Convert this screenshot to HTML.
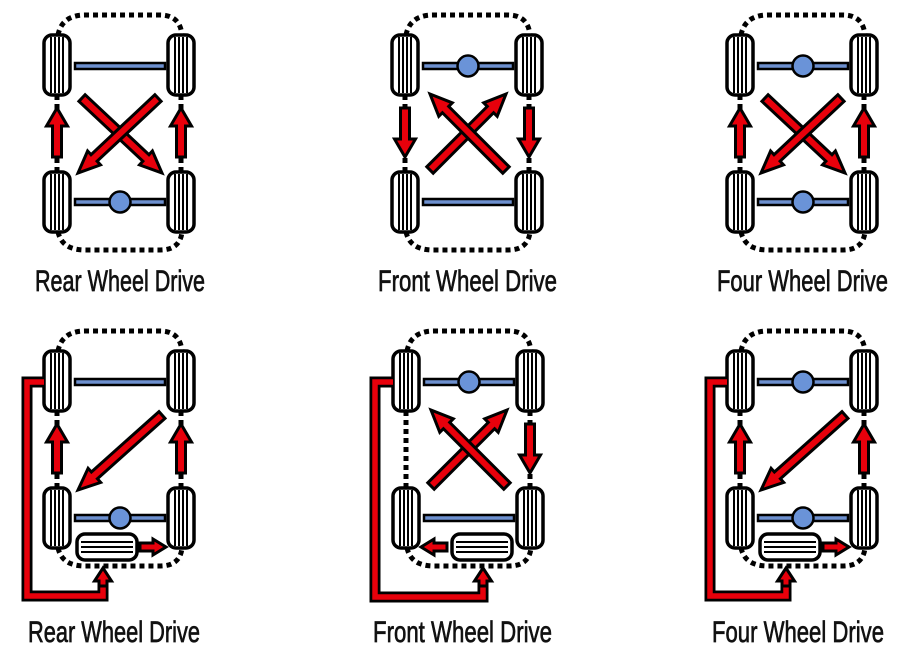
<!DOCTYPE html>
<html><head><meta charset="utf-8"><style>
html,body{margin:0;padding:0;background:#fff;}
svg{display:block}
text{font-family:"Liberation Sans Narrow","Liberation Sans",sans-serif;font-size:30px;fill:#111;stroke:#111;stroke-width:0.7px;}
</style></head><body>
<svg id="s" width="900" height="652" viewBox="0 0 900 652" xmlns="http://www.w3.org/2000/svg">
<g id="shapes"></g>
<text x="35" y="291" textLength="170" lengthAdjust="spacingAndGlyphs">Rear Wheel Drive</text>
<text x="378" y="291" textLength="179" lengthAdjust="spacingAndGlyphs">Front Wheel Drive</text>
<text x="717" y="291" textLength="171" lengthAdjust="spacingAndGlyphs">Four Wheel Drive</text>
<text x="28" y="642" textLength="172" lengthAdjust="spacingAndGlyphs">Rear Wheel Drive</text>
<text x="373" y="642" textLength="179" lengthAdjust="spacingAndGlyphs">Front Wheel Drive</text>
<text x="712" y="642" textLength="172" lengthAdjust="spacingAndGlyphs">Four Wheel Drive</text>
</svg>
<script>
var out=[];
function arrow(x0,y0,x1,y1,w,hw,hl){
  w=w||9;hw=hw||21;hl=hl||18;
  var dx=x1-x0,dy=y1-y0,L=Math.hypot(dx,dy),ux=dx/L,uy=dy/L,px=-uy,py=ux;
  var bx=x1-ux*hl,by=y1-uy*hl;
  var p=[[x0+px*w/2,y0+py*w/2],[bx+px*w/2,by+py*w/2],[bx+px*hw/2,by+py*hw/2],[x1,y1],
  [bx-px*hw/2,by-py*hw/2],[bx-px*w/2,by-py*w/2],[x0-px*w/2,y0-py*w/2]];
  out.push('<polygon points="'+p.map(function(a){return a[0].toFixed(1)+','+a[1].toFixed(1)}).join(' ')+'" fill="#e8000b" stroke="#000" stroke-width="3" stroke-linejoin="miter"/>');
}
function wheel(x,y){
  out.push('<rect x="'+x+'" y="'+y+'" width="26" height="60" rx="8" fill="#fff" stroke="#000" stroke-width="3.5"/>');
  for(var i=0;i<4;i++){var lx=x+7+i*4;out.push('<line x1="'+lx+'" y1="'+(y+2)+'" x2="'+lx+'" y2="'+(y+58)+'" stroke="#000" stroke-width="2"/>');}
}
function engine(x,y){
  out.push('<rect x="'+x+'" y="'+y+'" width="60" height="26" rx="8" fill="#fff" stroke="#000" stroke-width="3.5"/>');
  for(var i=0;i<3;i++){var ly=y+8+i*5;out.push('<line x1="'+(x+4)+'" y1="'+ly+'" x2="'+(x+56)+'" y2="'+ly+'" stroke="#000" stroke-width="2"/>');}
}
function axle(ox,y,diff){
  out.push('<rect x="'+(ox+75)+'" y="'+(y-3)+'" width="90" height="6" fill="#6d90cf" stroke="#000" stroke-width="2.5"/>');
  if(diff)out.push('<circle cx="'+(ox+120)+'" cy="'+y+'" r="10.5" fill="#6a93d8" stroke="#000" stroke-width="2.5"/>');
}
function dots(d){out.push('<path d="'+d+'" fill="none" stroke="#000" stroke-width="5" stroke-dasharray="5 4"/>');}
function panel(ox,oy,o){
  var T=function(x,y){return (ox+x)+','+(oy+y)};
  dots('M'+T(58,35)+' Q'+T(62,15)+' '+T(85,15)+' L'+T(160,15)+' Q'+T(180,15)+' '+T(182,35));
  dots('M'+T(58,232)+' Q'+T(62,250)+' '+T(85,250)+' L'+T(160,250)+' Q'+T(180,250)+' '+T(182,232));
  dots('M'+T(57,95)+' L'+T(57,172));
  dots('M'+T(181,95)+' L'+T(181,172));
  wheel(ox+44,oy+35);wheel(ox+168,oy+35);wheel(ox+44,oy+172);wheel(ox+168,oy+172);
  axle(ox,oy+66,o.fd);axle(ox,oy+202,o.rd);
  if(o.lv==='up')arrow(ox+57,oy+157,ox+57,oy+108);
  if(o.lv==='down')arrow(ox+57,oy+108,ox+57,oy+157);
  if(o.rv==='up')arrow(ox+181,oy+157,ox+181,oy+108);
  if(o.rv==='down')arrow(ox+181,oy+108,ox+181,oy+157);
  if(o.cross==='down'){arrow(ox+82,oy+98,ox+162,oy+173,9,19,22);arrow(ox+158,oy+98,ox+78,oy+173,9,19,22);}
  if(o.cross==='up'){arrow(ox+82,oy+170,ox+158,oy+94,9,19,22);arrow(ox+158,oy+170,ox+82,oy+94,9,19,22);}
  if(o.diag){arrow(ox+162,oy+99,ox+78,oy+174,9,19,22);}
  function pipe(pts,ax){
    var d='M'+pts.map(function(p){return T(p[0],p[1])}).join(' L');
    out.push('<path d="'+d+'" fill="none" stroke="#000" stroke-width="11" stroke-linejoin="miter"/>');
    out.push('<path d="'+d+'" fill="none" stroke="#e8000b" stroke-width="5.5" stroke-linejoin="miter"/>');
    arrow(ox+ax,oy+270,ox+ax,oy+252,8,17,13);
  }
  if(o.eng==='left'){engine(ox+77,oy+218);arrow(ox+140,oy+231,ox+166,oy+231,8,16,13);
    pipe([[44,66],[27,66],[27,280],[103,280],[103,262]],103);}
  if(o.eng==='right'){engine(ox+103,oy+218);arrow(ox+98,oy+231,ox+72,oy+231,8,16,13);
    pipe([[44,66],[26,66],[26,281],[134,281],[134,262]],134);}
}
panel(0,0,{fd:false,rd:true,lv:'up',rv:'up',cross:'down'});
panel(348,0,{fd:true,rd:false,lv:'down',rv:'down',cross:'up'});
panel(683,0,{fd:true,rd:true,lv:'up',rv:'up',cross:'down'});
panel(0,316,{fd:false,rd:true,lv:'up',rv:'up',diag:true,eng:'left'});
panel(349,316,{fd:true,rd:false,rv:'down',cross:'up',eng:'right'});
panel(683,316,{fd:true,rd:true,lv:'up',rv:'up',diag:true,eng:'left'});
document.getElementById('shapes').innerHTML=out.join('');
</script>
</body></html>
